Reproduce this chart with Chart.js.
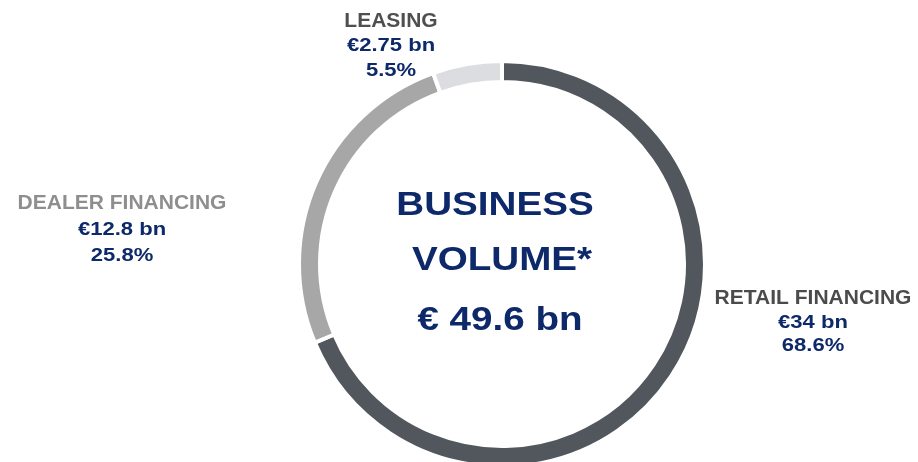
<!DOCTYPE html>
<html>
<head>
<meta charset="utf-8">
<script src="https://cdn.jsdelivr.net/npm/chart.js@4.4.0/dist/chart.umd.min.js"></script>
<style>
  html, body { margin: 0; padding: 0; background: #fff; overflow: hidden; }
  #wrap { width: 918px; height: 462px; overflow: hidden; }
</style>
</head>
<body>
<div id="wrap"><canvas id="volumeChart" width="918" height="470"></canvas></div>
<script>
// business volume split by segment
const segments = ['RETAIL FINANCING', 'DEALER FINANCING', 'LEASING'];
const volumesBn = ['34', '12.8', '2.75'];
const shares = [68.6, 25.8, 5.5];
const totalBn = '49.6';

const sliceColors = ['#52565d', '#a7a7a7', '#dcdde1'];
const titleColors = ['#4b4b4b', '#8e8e8e', '#4f4f4f'];
const navy = '#0d296a';

// where each segment's caption sits (center x, first baseline)
const captionSpots = [
  { x: 813, y: 304, gap: 23.5 },
  { x: 122, y: 209, gap: 25.8 },
  { x: 391, y: 26.5, gap: 24.8 }
];

function stretchedText(ctx, text, x, y, font, color, sx) {
  ctx.save();
  ctx.font = font;
  ctx.fillStyle = color;
  ctx.textAlign = 'center';
  ctx.textBaseline = 'alphabetic';
  ctx.translate(x, y);
  ctx.scale(sx, 1);
  ctx.fillText(text, 0, 0);
  ctx.restore();
}

const captions = {
  id: 'captions',
  afterDraw(chart) {
    const ctx = chart.ctx;
    const fam = 'Arial, "Liberation Sans", Helvetica, sans-serif';
    segments.forEach((name, i) => {
      const s = captionSpots[i];
      stretchedText(ctx, name, s.x, s.y, 'bold 20px ' + fam, titleColors[i], 1.05);
      stretchedText(ctx, '€' + volumesBn[i] + ' bn', s.x, s.y + s.gap, 'bold 19px ' + fam, navy, 1.16);
      stretchedText(ctx, shares[i].toFixed(1) + '%', s.x, s.y + s.gap * 2, 'bold 19px ' + fam, navy, 1.16);
    });

    // centre title
    const arc = chart.getDatasetMeta(0).data[0];
    const cx = arc.x;
    const big = 'bold 33px ' + fam;
    stretchedText(ctx, 'BUSINESS', cx - 7, 215, big, navy, 1.17);
    stretchedText(ctx, 'VOLUME*', cx, 270, big, navy, 1.17);
    stretchedText(ctx, '€ ' + totalBn + ' bn', cx - 2, 330, big, navy, 1.17);
  }
};

new Chart(document.getElementById('volumeChart'), {
  type: 'doughnut',
  data: {
    labels: segments,
    datasets: [{
      data: shares,
      backgroundColor: sliceColors,
      borderColor: '#ffffff',
      borderWidth: 4,
      hoverOffset: 0
    }]
  },
  options: {
    responsive: false,
    animation: false,
    cutout: 182,
    layout: { padding: { left: 297, right: 211, top: 59, bottom: 1 } },
    events: [],
    plugins: {
      legend: { display: false },
      tooltip: { enabled: false }
    }
  },
  plugins: [captions]
});
</script>
</body>
</html>
